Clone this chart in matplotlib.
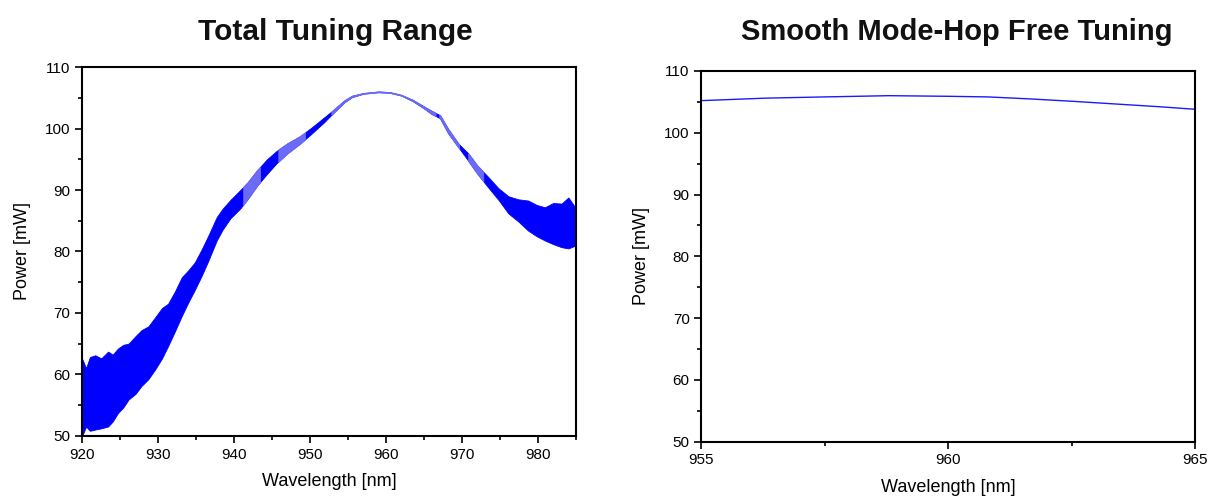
import matplotlib.pyplot as plt
from matplotlib.ticker import MultipleLocator
import numpy as np

plt.rcParams['font.family'] = ['Liberation Sans', 'DejaVu Sans']

# left panel: envelope of the noisy power trace
wl_total = [920.0, 920.5, 921.0, 921.7, 922.5, 923.4, 924.0, 924.7, 925.4, 926.1, 927.0, 927.8,
            928.7, 929.6, 930.5, 931.3, 932.2, 933.1, 934.0, 934.8, 935.7, 936.6, 937.7,
            938.5, 939.5, 940.8, 941.8, 943.0, 944.3, 945.6, 947.0, 948.7, 950.2,
            951.8, 953.0, 954.5, 955.5, 957.0, 959.0, 960.5, 962.0, 963.5, 965.0,
            966.0, 967.1, 968.2, 969.5, 970.8, 972.0, 973.4, 974.8, 976.1, 977.4, 978.7,
            979.8, 980.9, 982.0, 983.1, 984.0, 985.0]
upper = [62.5, 61.0, 62.8, 63.1, 62.6, 63.7, 63.2, 64.2, 64.8, 65.0, 66.2, 67.2,
         67.8, 69.3, 70.8, 71.5, 73.5, 75.8, 77.0, 78.2, 80.3, 82.6, 85.6,
         87.0, 88.4, 90.0, 91.3, 93.2, 95.0, 96.4, 97.6, 98.8, 100.2,
         101.8, 103.0, 104.6, 105.35, 105.8, 106.05, 105.95, 105.5, 104.7, 103.6,
         102.9, 102.2, 99.9, 97.6, 96.0, 94.0, 92.2, 90.3, 89.0, 88.5, 88.3,
         87.6, 87.2, 87.9, 87.8, 88.8, 87.0]
lower = [50.0, 51.5, 50.8, 51.0, 51.2, 51.5, 52.3, 53.7, 54.6, 55.9, 56.8, 58.1,
         59.2, 60.8, 62.6, 64.6, 67.0, 69.5, 71.8, 73.7, 76.0, 78.5, 81.8,
         83.6, 85.4, 87.0, 88.6, 90.7, 92.6, 94.4, 96.0, 97.6, 99.2,
         101.0, 102.5, 104.3, 105.15, 105.7, 105.95, 105.85, 105.4, 104.5, 103.3,
         102.4, 101.7, 99.2, 97.0, 94.8, 92.7, 90.5, 88.4, 86.2, 84.9, 83.4,
         82.5, 81.8, 81.2, 80.7, 80.5, 81.0]
# spans where the trace is sparse and prints lighter
light_spans = [(941.2, 943.4), (945.8, 949.3), (952.8, 966.5), (967.0, 969.6), (970.8, 972.8)]

# right panel: mode-hop free scan
wl_mhf = [955.0, 956.3, 957.5, 958.8, 960.0, 960.8, 961.6, 962.5, 963.5, 964.3, 965.0]
p_mhf = [105.2, 105.6, 105.8, 106.0, 105.9, 105.8, 105.5, 105.1, 104.6, 104.2, 103.8]

fig = plt.figure(figsize=(12.08, 4.98), dpi=100)
ax1 = fig.add_axes([0.0681, 0.1251, 0.4087, 0.7398])
ax2 = fig.add_axes([0.5807, 0.1131, 0.4085, 0.7444])

x = np.array(wl_total)
up = np.array(upper)
lo = np.array(lower)
ax1.fill_between(x, lo, up, color='#0000ff', lw=0.6, ec='#0000ff')
xf = np.linspace(920, 985, 2000)
uf = np.interp(xf, x, up)
lf = np.interp(xf, x, lo)
for a, b in light_spans:
    m = (xf >= a) & (xf <= b)
    ax1.fill_between(xf[m], lf[m], uf[m], color='#6b6bf7', lw=0.8, ec='#6b6bf7', zorder=3)

ax2.plot(wl_mhf, p_mhf, color='#1a1aff', lw=1.0)

for ax in (ax1, ax2):
    ax.set_ylim(50, 110)
    ax.yaxis.set_major_locator(MultipleLocator(10))
    ax.yaxis.set_minor_locator(MultipleLocator(5))
    ax.tick_params(which='both', direction='out', top=False, right=False,
                   labelsize=11, width=1.2, colors='black')
    ax.tick_params(which='major', length=5)
    ax.tick_params(which='minor', length=3)
    for s in ax.spines.values():
        s.set_linewidth(1.5)
    ax.set_xlabel('Wavelength [nm]', fontsize=13, labelpad=8)
    ax.set_ylabel('Power [mW]', fontsize=13, labelpad=10)

ax1.set_xlim(920, 985)
ax1.xaxis.set_major_locator(MultipleLocator(10))
ax1.xaxis.set_minor_locator(MultipleLocator(5))
ax2.set_xlim(955, 965)
ax2.xaxis.set_major_locator(MultipleLocator(5))
ax2.xaxis.set_minor_locator(MultipleLocator(2.5))

ax1.set_title('Total Tuning Range', fontsize=21.5, fontweight='bold', pad=20,
              color='#111111', x=0.513)
ax2.set_title('Smooth Mode-Hop Free Tuning', fontsize=21, fontweight='bold', pad=22,
              color='#111111', x=0.518)

fig.savefig('out.png', dpi=100)
